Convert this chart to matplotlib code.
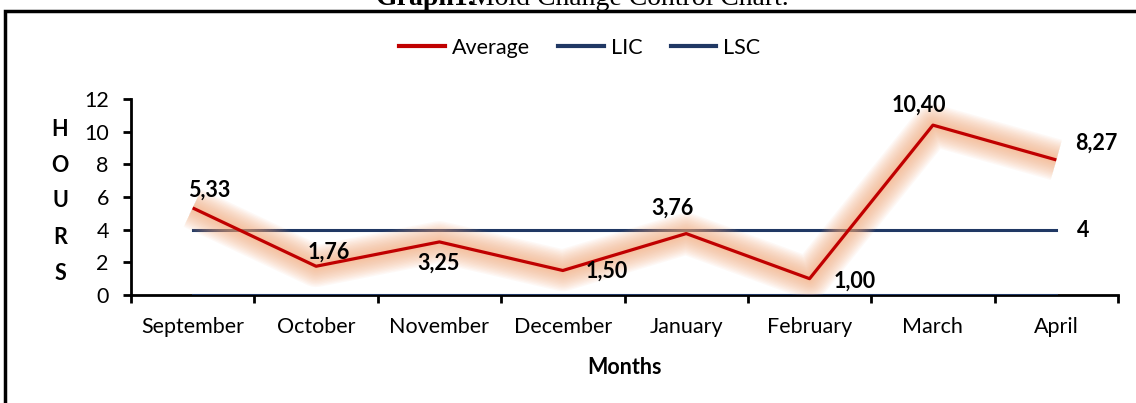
import matplotlib.pyplot as plt
import matplotlib.patheffects as pe
from matplotlib.lines import Line2D
from matplotlib.patches import Rectangle

months = ["September", "October", "November", "December",
          "January", "February", "March", "April"]
average = [5.33, 1.76, 3.25, 1.50, 3.76, 1.00, 10.40, 8.27]
lic = [0, 0, 0, 0, 0, 0, 0, 0]
lsc = [4, 4, 4, 4, 4, 4, 4, 4]
avg_labels = ["5,33", "1,76", "3,25", "1,50", "3,76", "1,00", "10,40", "8,27"]
# label offsets in pixels (dx, dy)
label_offsets = [(17, 18), (13, 14), (-1, -21), (44, -1), (-14, 25), (45, -3), (-14, 20), (40, 17)]

plt.rcParams["font.family"] = ["Lato", "DejaVu Sans"]
FS = 15.5

fig = plt.figure(figsize=(11.36, 4.03), dpi=100)
ax = fig.add_axes([131 / 1136, 108 / 403, (1118 - 131) / 1136, 196 / 403])

x = list(range(len(months)))
red = "#C00000"
navy = "#203864"

# soft orange glow around the average line (many thin alpha steps)
glow = [pe.Stroke(linewidth=w, foreground="#F5A877", alpha=0.07)
        for w in range(30, 3, -2)]
ax.plot(x, lic, color=navy, lw=2.2, zorder=2)
ax.plot(x, lsc, color=navy, lw=2.2, zorder=2)
ax.plot(x, average, color=red, lw=2.3, zorder=3,
        solid_capstyle="butt", path_effects=glow + [pe.Normal()])

for xi, yi, lab, off in zip(x, average, avg_labels, label_offsets):
    ax.annotate(lab, (xi, yi), xytext=off, textcoords="offset pixels",
                ha="center", va="center", fontsize=FS, fontweight="bold", zorder=5)
ax.annotate("4", (x[-1], lsc[-1]), xytext=(27, -1), textcoords="offset pixels",
            ha="center", va="center", fontsize=FS, fontweight="bold")

ax.set_xlim(-0.5, len(months) - 0.5)
ax.set_ylim(0, 12)
ax.set_yticks(range(0, 13, 2))
ax.set_xticks(x)
ax.set_xticklabels(months, fontsize=FS)
ax.set_xticks([i - 0.5 for i in range(len(months) + 1)], minor=True)
ax.tick_params(axis="x", which="major", length=0, pad=16)
ax.tick_params(axis="x", which="minor", length=6, width=2, direction="out")
ax.tick_params(axis="y", labelsize=FS, length=6, width=2, direction="out", pad=10)
for s in ["top", "right"]:
    ax.spines[s].set_visible(False)
for s in ["left", "bottom"]:
    ax.spines[s].set_linewidth(2)
ax.spines["bottom"].set_zorder(1)

ax.set_xlabel("Months", fontsize=FS, fontweight="bold", labelpad=14)

# stacked vertical y label
for i, ch in enumerate("HOURS"):
    fig.text(60 / 1136, 1 - (129 + 36 * i) / 403, ch, ha="center", va="center",
             fontsize=FS, fontweight="bold")

handles = [Line2D([], [], color=red, lw=3),
           Line2D([], [], color=navy, lw=3),
           Line2D([], [], color=navy, lw=3)]
fig.legend(handles, ["Average", "LIC", "LSC"],
           loc="center", bbox_to_anchor=(580 / 1136, 1 - 48 / 403), ncol=3,
           frameon=False, fontsize=FS, handlelength=2.1, columnspacing=1.3,
           handletextpad=0.35)

# outer border box
fig.patches.append(Rectangle((5 / 1136, -0.1), 1.2, 1 - 11 / 403 + 0.1,
                             transform=fig.transFigure, fill=False,
                             edgecolor="black", linewidth=2.5))

# title (partially cut at top edge, as in the source)
fig.text(376 / 1136, 1 - 5 / 403, "Graph1.", fontsize=20, fontweight="bold",
         family="Liberation Serif", ha="left", va="baseline")
fig.text(470 / 1136, 1 - 5 / 403, "Mold Change Control Chart.", fontsize=20,
         family="Liberation Serif", ha="left", va="baseline")

fig.savefig("out.png", dpi=100)
